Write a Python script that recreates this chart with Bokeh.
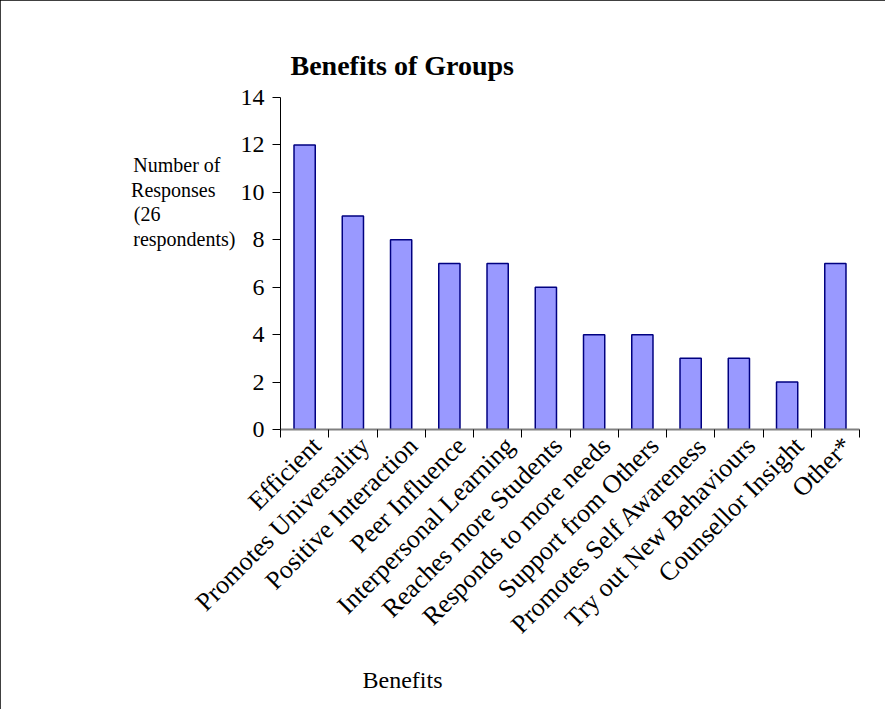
from math import pi

from bokeh.embed import file_html
from bokeh.models import FixedTicker, LinearAxis, Range1d, Title
from bokeh.plotting import figure
from bokeh.resources import INLINE

# Survey results: benefits of running groups
categories = [
    "Efficient",
    "Promotes Universality",
    "Positive Interaction",
    "Peer Influence",
    "Interpersonal Learning",
    "Reaches more Students",
    "Responds to more needs",
    "Support from Others",
    "Promotes Self Awareness",
    "Try out New Behaviours",
    "Counsellor Insight",
    "Other*",
]
responses = [12, 9, 8, 7, 7, 6, 4, 4, 3, 3, 2, 7]
y_ticks = [0, 2, 4, 6, 8, 10, 12, 14]
y_title_lines = ["Number of", "Responses", "(26", "respondents)"]

FONT = "Liberation Serif"
W, H = 885, 709
FL, FR, FT, FB = 280, 859, 97, 429  # frame edges in canvas pixels
TEXT_CX = 402                       # centre line of title and x-axis title

n = len(categories)
centers = [i + 0.5 for i in range(n)]
bounds = list(range(n + 1))
label_pos = [c + 0.25 for c in centers]  # rotated names hang right of centre

p = figure(
    width=W, height=H,
    x_range=Range1d(0, n), y_range=Range1d(0, 14),
    x_axis_location=None, y_axis_location=None,
    output_backend="svg", toolbar_location=None,
    min_border_left=FL, min_border_right=W - FR,
    min_border_top=FT, min_border_bottom=H - FB,
)
p.outline_line_color = None
p.xgrid.visible = False
p.ygrid.visible = False
p.styles = {"outline": "1px solid black", "outline-offset": "-1px"}

# chart title, left-aligned and offset so that it is centred on TEXT_CX
TITLE_SIZE = 28
title_w = 8.0 * TITLE_SIZE  # width of the bold title in em units
p.title.text = "Benefits of Groups"
p.title.align = "left"
p.title.offset = TEXT_CX - FL - title_w / 2
p.title.text_font = FONT
p.title.text_font_size = f"{TITLE_SIZE}px"
p.title.text_font_style = "bold"
p.title.text_color = "black"
p.title.standoff = 33

# y-axis title: lines padded with no-break spaces so they line up on the left,
# trailing blank lines lift the block towards the top of the axis
pad = {"Number of": 3, "Responses": 4, "(26": 15, "respondents)": 0}
y_title = "\n".join(line + "\u00a0" * pad[line] for line in y_title_lines) + "\n" * 5

yax = LinearAxis(ticker=FixedTicker(ticks=y_ticks))
yax.axis_line_color = "black"
yax.major_tick_line_color = "black"
yax.major_tick_out = 8
yax.major_tick_in = 0
yax.minor_tick_line_color = None
yax.major_label_text_font = FONT
yax.major_label_text_font_size = "24px"
yax.major_label_text_color = "black"
yax.major_label_standoff = 8
yax.axis_label = y_title
yax.axis_label_orientation = "horizontal"
yax.axis_label_text_font = FONT
yax.axis_label_text_font_size = "20px"
yax.axis_label_text_font_style = "normal"
yax.axis_label_text_color = "black"
yax.axis_label_text_line_height = 1.12
yax.axis_label_standoff = 2
p.add_layout(yax, "left")

# x axis: names beside category centres, tick marks on category boundaries
xax = LinearAxis(
    ticker=FixedTicker(ticks=label_pos, minor_ticks=bounds),
    major_label_overrides={x: name for x, name in zip(label_pos, categories)},
)
xax.axis_line_color = "#808080"
xax.axis_line_width = 2
xax.major_tick_line_color = None
xax.minor_tick_line_color = "black"
xax.minor_tick_out = 8
xax.minor_tick_in = 0
xax.major_label_orientation = pi / 4
xax.major_label_text_font = FONT
xax.major_label_text_font_size = "26px"
xax.major_label_text_color = "black"
xax.major_label_standoff = 4
p.add_layout(xax, "below")

# x-axis title
XT_SIZE = 24
xt_w = 3.333 * XT_SIZE
p.add_layout(Title(text="Benefits", align="left", offset=TEXT_CX - FL - xt_w / 2,
                   text_font=FONT, text_font_size=f"{XT_SIZE}px",
                   text_font_style="normal", text_color="black",
                   standoff=25), "below")

p.vbar(x=centers, top=responses, width=0.44,
       fill_color="#9999FF", line_color="#000080", line_width=1.5)

open("out.html", "w").write(file_html(p, INLINE))
